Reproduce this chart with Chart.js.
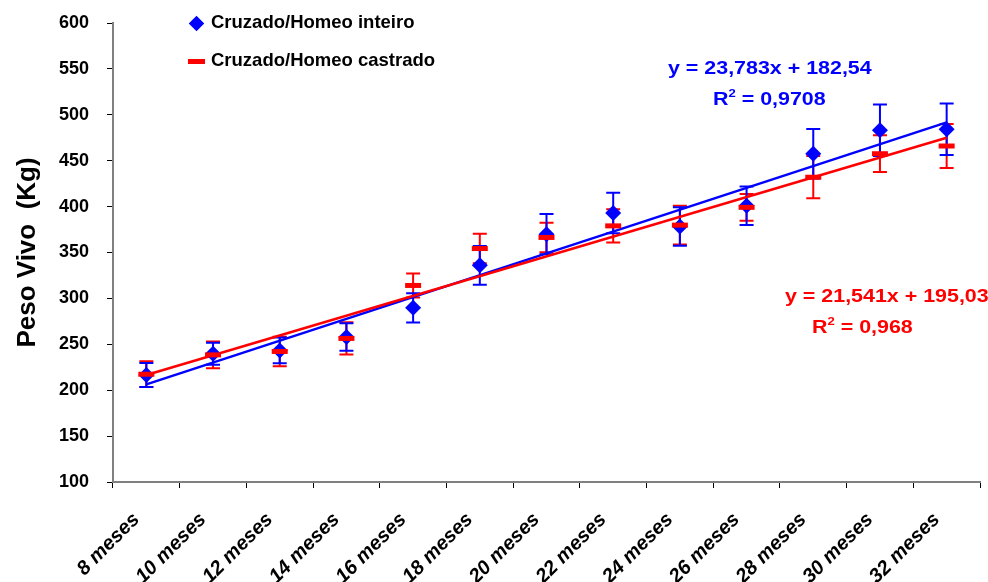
<!DOCTYPE html>
<html>
<head>
<meta charset="utf-8">
<script src="https://cdn.jsdelivr.net/npm/chart.js@4/dist/chart.umd.min.js"></script>
<style>
  html, body { margin: 0; padding: 0; background: #fff; overflow: hidden; }
  #wrap { position: relative; width: 988px; height: 582px; overflow: hidden; font-family: 'Liberation Sans', Arial, sans-serif; }
  #grafico { position: absolute; left: 0; top: 0; }
  .txt { position: absolute; font-weight: bold; font-size: 18px; line-height: 20px; white-space: nowrap;
         transform: scaleX(1.19); transform-origin: left center; }
  .leg { position: absolute; left: 186px; font-weight: bold; font-size: 18.5px; line-height: 22px; color: #000; white-space: nowrap; }
  .leg span.m { display: inline-block; vertical-align: middle; margin-right: 6px; }
  sup { font-size: 11px; vertical-align: 8px; line-height: 0; }
</style>
</head>
<body>
<div id="wrap">
  <canvas id="grafico" width="993" height="582"></canvas>
  <div id="legenda"></div>
  <div class="txt" style="left:668px; top:58px; color:#0000FF;">y = 23,783x + 182,54</div>
  <div class="txt" style="left:713px; top:89px; color:#0000FF;">R<sup>2</sup> = 0,9708</div>
  <div class="txt" style="left:785px; top:286px; color:#FF0000;">y = 21,541x + 195,03</div>
  <div class="txt" style="left:812px; top:317px; color:#FF0000;">R<sup>2</sup> = 0,968</div>
</div>
<script>
const meses = ['8 meses', '10 meses', '12 meses', '14 meses', '16 meses', '18 meses', '20 meses',
               '22 meses', '24 meses', '26 meses', '28 meses', '30 meses', '32 meses'];

const inteiro = [216.6, 239.6, 243.3, 257.9, 289.7, 336, 370, 393, 378.4, 401, 457.6, 483.1, 484.2];
const inteiroErro = [13, 12, 14, 15, 16, 21, 22, 22, 21, 21, 27, 28, 28];

const castrado = [217.4, 238.5, 242.2, 256.4, 314.1, 354.3, 366.4, 379, 379.8, 399.2, 432, 457.6, 466];
const castradoErro = [14, 14.5, 16, 17.5, 13, 16, 16, 18, 21, 14.5, 23, 20, 24];

// linhas de tendencia (inclinacao, intercepto) como no grafico original
const tendInteiro = [23.783, 182.54];
const tendCastrado = [21.541, 195.03];

const azul = '#0000FF';
const vermelho = '#FF0000';
const fonte = "'Liberation Sans', Arial, sans-serif";

function linhaTendencia(t) {
    const ultimo = meses.length - 1;
    return meses.map((m, i) => (i === 0 || i === ultimo) ? t[0] * (i + 1) + t[1] : null);
}

// legenda em html
document.getElementById('legenda').innerHTML =
    '<div class="leg" style="top:11px;"><span class="m" style="width:11px;height:11px;background:' + azul +
    ';transform:rotate(45deg);margin-left:5px;margin-right:9px;"></span>Cruzado/Homeo inteiro</div>' +
    '<div class="leg" style="top:49px;"><span class="m" style="width:17px;height:5px;background:' + vermelho +
    ';margin-left:2px;"></span>Cruzado/Homeo castrado</div>';

const barrasErro = {
    id: 'barrasErro',
    beforeDatasetsDraw(chart) {
        const ctx = chart.ctx;
        const y = chart.scales.y;
        chart.data.datasets.forEach((ds, i) => {
            if (!ds.erros) return;
            const meta = chart.getDatasetMeta(i);
            ctx.save();
            ctx.strokeStyle = ds.borderColor;
            ctx.lineWidth = 2;
            meta.data.forEach((p, j) => {
                const v = ds.data[j];
                const e = ds.erros[j];
                const top = y.getPixelForValue(v + e);
                const bot = y.getPixelForValue(v - e);
                ctx.beginPath();
                ctx.moveTo(p.x, top); ctx.lineTo(p.x, bot);
                ctx.moveTo(p.x - 7, top); ctx.lineTo(p.x + 7, top);
                ctx.moveTo(p.x - 7, bot); ctx.lineTo(p.x + 7, bot);
                ctx.stroke();
            });
            ctx.restore();
        });
    }
};

const ctx = document.getElementById('grafico').getContext('2d');
new Chart(ctx, {
    type: 'line',
    data: {
        labels: meses,
        datasets: [
            { label: 'Cruzado/Homeo castrado', data: castrado, erros: castradoErro, showLine: false,
              pointStyle: 'line', pointRadius: 8, pointBorderWidth: 5, borderColor: vermelho, backgroundColor: vermelho },
            { label: 'Cruzado/Homeo inteiro', data: inteiro, erros: inteiroErro, showLine: false,
              pointStyle: 'rectRot', pointRadius: 8, borderColor: azul, backgroundColor: azul, pointBorderWidth: 0 },
            { label: 'tend castrado', data: linhaTendencia(tendCastrado), spanGaps: true, borderColor: vermelho,
              borderWidth: 2.5, pointRadius: 0 },
            { label: 'tend inteiro', data: linhaTendencia(tendInteiro), spanGaps: true, borderColor: azul,
              borderWidth: 2.5, pointRadius: 0 }
        ]
    },
    options: {
        responsive: false,
        animation: false,
        layout: { padding: { top: 23, right: 0, left: 0, bottom: 0 } },
        plugins: { legend: { display: false }, tooltip: { enabled: false } },
        scales: {
            x: {
                offset: true,
                grid: { offset: true, drawOnChartArea: false, tickLength: 6, color: '#000' },
                border: { color: '#808080', width: 2 },
                ticks: { minRotation: 45, maxRotation: 45, padding: 20, labelOffset: -10, color: '#000',
                         font: { family: fonte, size: 20, weight: 'bold', style: 'italic' } },
                afterFit(s) { s.height = 100; s.paddingLeft = 0; s.paddingRight = 0; }
            },
            y: {
                min: 100, max: 600,
                grid: { drawOnChartArea: false, tickLength: 6, color: '#000' },
                border: { color: '#808080', width: 2 },
                ticks: { stepSize: 50, padding: 18, color: '#000',
                         font: { family: fonte, size: 18, weight: 'bold' } },
                title: { display: true, text: 'Peso Vivo  (Kg)', color: '#000', padding: { top: 12, bottom: 0 },
                         font: { family: fonte, size: 26, weight: 'bold' } },
                afterFit(s) { s.width = 113; s.paddingTop = 0; s.paddingBottom = 0; }
            }
        }
    },
    plugins: [barrasErro]
});
</script>
</body>
</html>
